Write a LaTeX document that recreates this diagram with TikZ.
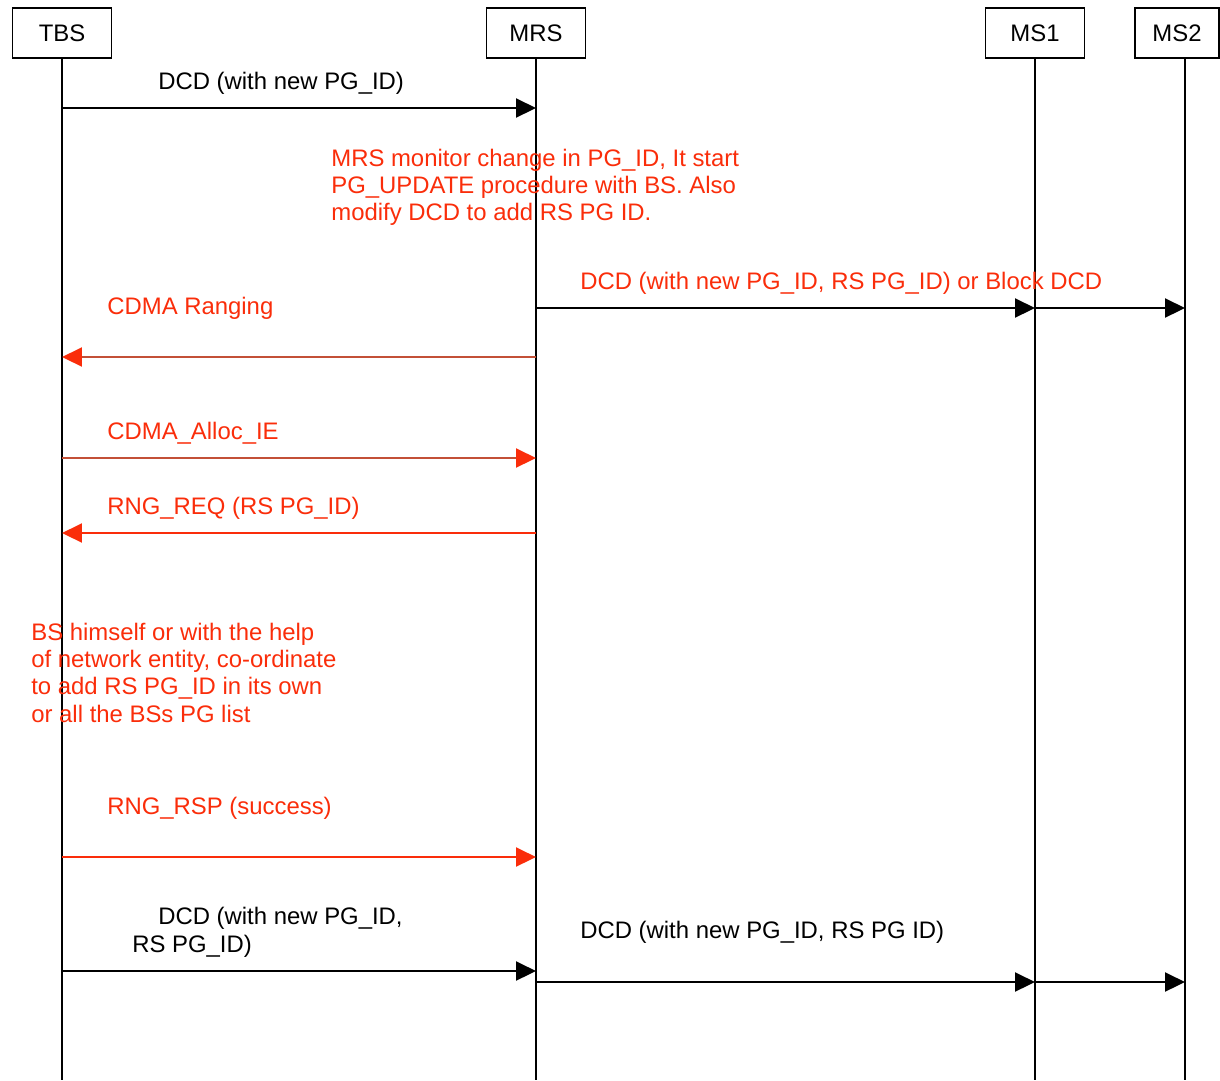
\documentclass[tikz,border=0pt]{standalone}
\usepackage{xcolor}
\usepackage{fontspec}
\setmainfont{Liberation Sans}
\usepackage{tikz}
\usetikzlibrary{arrows.meta,positioning}
\definecolor{msgred}{RGB}{250,45,10}
\definecolor{msgbrown}{RGB}{195,80,55}
\definecolor{msgdark}{RGB}{0,0,0}
\newcommand{\msgfont}{\fontsize{13.6}{15.5}\selectfont}
\tikzset{
  >={Triangle[length=0.4cm,width=0.38cm]},
  actor/.style={
    draw=msgdark,
    line width=1.1pt,
    fill=white,
    minimum width=1.98cm,
    minimum height=1cm,
    inner sep=0pt,
    font=\msgfont
  },
  lifeline/.style={line width=1.1pt, draw=msgdark},
  msg/.style={->, line width=1.2pt, draw=msgdark},
  redmsg/.style={msg, draw=msgred, fill=msgred},
  brownmsg/.style={-{Triangle[length=0.4cm,width=0.38cm,color=msgred]},
    line width=1.2pt, draw=msgbrown},
  msglabel/.style={anchor=base west, inner sep=0pt, align=left, font=\msgfont},
  rednote/.style={msglabel, text=msgred}
}
\begin{document}
\begin{tikzpicture}[x=0.02cm,y=-0.02cm]
      \useasboundingbox (0,0) rectangle (1220,1080);
      \node[actor] (tbs) at (62,33) {TBS};
      \node[actor] (mrs) at (536,33) {MRS};
      \node[actor] (ms1) at (1035,33) {MS1};
      \node[actor,minimum width=1.68cm] (ms2) at (1177,33) {MS2};
      \coordinate (ms2l) at (1185,58);
      \coordinate (bottom) at (0,1080);

      \draw[lifeline] (tbs) -- (tbs |- bottom);
      \draw[lifeline] (mrs) -- (mrs |- bottom);
      \draw[lifeline] (ms1) -- (ms1 |- bottom);
      \draw[lifeline] (ms2l) -- (ms2l |- bottom);

      \coordinate (r1) at (0,108);
      \coordinate (r3) at (0,308);
      \coordinate (r4) at (0,357);
      \coordinate (r5) at (0,458);
      \coordinate (r6) at (0,533);
      \coordinate (r7) at (0,857);
      \coordinate (r8) at (0,971);
      \coordinate (r9) at (0,982);

      \node[msglabel] (dcdnew) at (158,89) {DCD (with new PG\_ID)};
      \draw[msg] (tbs |- r1) -- (mrs |- r1);

      \node[rednote] (monitor) at (331,220.6)
        {MRS monitor change in PG\_ID, It start\\PG\_UPDATE procedure with BS. Also\\modify DCD to add RS PG ID.};

      \node[rednote] (dcdblock) at (580,289)
        {DCD (with new PG\_ID, RS PG\_ID) or Block DCD};
      \draw[msg] (mrs |- r3) -- (ms1 |- r3);
      \draw[msg] (ms1 |- r3) -- (ms2l |- r3);

      \node[rednote] (ranging) at (107,314) {CDMA Ranging};
      \draw[brownmsg] (mrs |- r4) -- (tbs |- r4);

      \node[rednote] (alloc) at (107,439) {CDMA\_Alloc\_IE};
      \draw[brownmsg] (tbs |- r5) -- (mrs |- r5);

      \node[rednote] (rngreq) at (107,514) {RNG\_REQ (RS PG\_ID)};
      \draw[redmsg] (mrs |- r6) -- (tbs |- r6);

      \node[rednote] (coord) at (31,722)
        {BS himself or with the help\\of network entity, co-ordinate\\to add RS PG\_ID in its own\\or all the BSs PG list};

      \node[rednote] (rngrsp) at (107,814) {RNG\_RSP (success)};
      \draw[redmsg] (tbs |- r7) -- (mrs |- r7);

      \node[msglabel] (dcdrs) at (132,952)
        {\hspace*{0.52cm}DCD (with new PG\_ID,\\RS PG\_ID)};
      \draw[msg] (tbs |- r8) -- (mrs |- r8);

      \node[msglabel] (dcdms) at (580,938) {DCD (with new PG\_ID, RS PG ID)};
      \draw[msg] (mrs |- r9) -- (ms1 |- r9);
      \draw[msg] (ms1 |- r9) -- (ms2l |- r9);
    \end{tikzpicture}
\end{document}
